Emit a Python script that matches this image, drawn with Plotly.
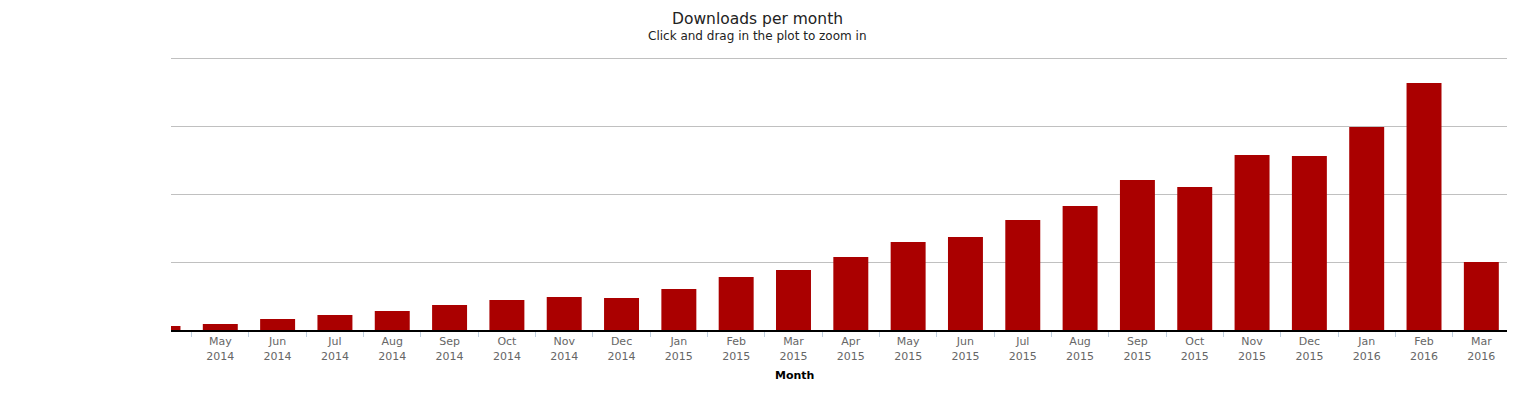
import plotly.graph_objects as go

months = ["Apr<br>2014", "May<br>2014", "Jun<br>2014", "Jul<br>2014", "Aug<br>2014", "Sep<br>2014",
          "Oct<br>2014", "Nov<br>2014", "Dec<br>2014", "Jan<br>2015", "Feb<br>2015", "Mar<br>2015",
          "Apr<br>2015", "May<br>2015", "Jun<br>2015", "Jul<br>2015", "Aug<br>2015", "Sep<br>2015",
          "Oct<br>2015", "Nov<br>2015", "Dec<br>2015", "Jan<br>2016", "Feb<br>2016", "Mar<br>2016"]
downloads = [59, 88, 162, 221, 279, 368, 441, 485, 471, 603, 779, 882,
             1074, 1294, 1368, 1618, 1824, 2206, 2103, 2574, 2559, 2985, 3632, 1000]

# page body has an 8px margin; figure coordinates are offset accordingly
OFF = 8
PLOT_LEFT, PLOT_RIGHT = 171, 1510
PLOT_TOP, PLOT_BOTTOM = 56, 330          # page pixels (2px headroom above top gridline)
FIG_W, FIG_H = 1502, 379
Y_MAX = 4000 * (PLOT_BOTTOM - PLOT_TOP) / 272.0


def py(p):
    return (PLOT_BOTTOM - p) / (PLOT_BOTTOM - PLOT_TOP)


def px(p):
    return (p - PLOT_LEFT) / (PLOT_RIGHT - PLOT_LEFT)


fig = go.Figure(go.Bar(x=months, y=downloads, marker=dict(color="#AA0000", line=dict(width=0)),
                       hoverinfo="x+y"))

font = "DejaVu Sans, Verdana, sans-serif"
fig.update_layout(
    width=FIG_W, height=FIG_H,
    margin=dict(l=PLOT_LEFT - OFF, r=OFF + FIG_W - PLOT_RIGHT, t=PLOT_TOP - OFF,
                b=FIG_H - (PLOT_BOTTOM - OFF), pad=0),
    paper_bgcolor="white", plot_bgcolor="white",
    bargap=0.39,
    showlegend=False,
    font=dict(family=font),
    xaxis=dict(
        type="category",
        range=[0.14, 23.5],
        tickson="boundaries",
        ticks="outside", ticklen=5, tickcolor="#C0D0E0", tickwidth=1,
        showline=True, linecolor="#000000", linewidth=2,
        showgrid=False,
        tickfont=dict(size=11, color="#666666", family=font),
        tickangle=0,
    ),
    yaxis=dict(
        range=[0, Y_MAX],
        tickvals=[0, 1000, 2000, 3000, 4000],
        showticklabels=False,
        showgrid=True, gridcolor="#C0C0C0", gridwidth=1,
        zeroline=False, showline=False, ticks="",
    ),
    annotations=[
        dict(text="Downloads per month", x=px(757), xref="paper", y=py(19), yref="paper",
             xanchor="center", yanchor="middle", showarrow=False,
             font=dict(size=15.5, color="#222222", family=font)),
        dict(text="Click and drag in the plot to zoom in", x=px(757), xref="paper", y=py(36), yref="paper",
             xanchor="center", yanchor="middle", showarrow=False,
             font=dict(size=12, color="#222222", family=font)),
        dict(text="<b>Month</b>", x=px(794), xref="paper", y=py(375), yref="paper",
             xanchor="center", yanchor="middle", showarrow=False,
             font=dict(size=11, color="#000000", family=font)),
    ],
)

fig.write_html("out.html")
